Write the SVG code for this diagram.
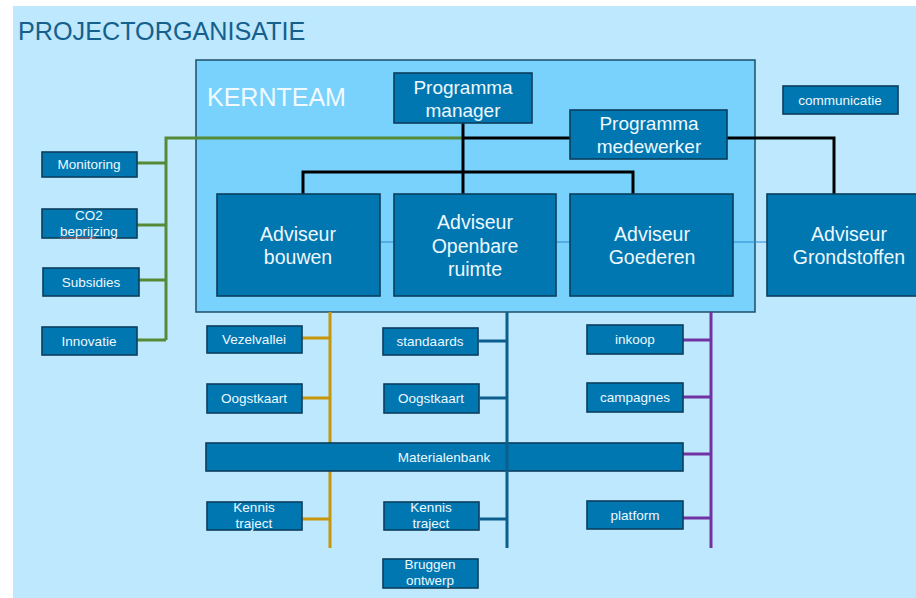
<svg xmlns="http://www.w3.org/2000/svg" width="916" height="598" viewBox="0 0 916 598">
<style>
.n{fill:#0077B1;stroke:#0B3E5E;stroke-width:1.6}
.t{font-family:"Liberation Sans",Arial,sans-serif;fill:#EEF8FF;text-anchor:middle}
.s{font-size:13.5px}
.m{font-size:19px}
.b{font-size:19.5px}
.ln{fill:none;stroke-width:3}
</style>
<rect x="0" y="0" width="916" height="598" fill="#FFFFFF"/>
<rect x="13" y="6" width="903" height="592" fill="#BDE8FE"/>
<text x="18" y="40" font-family="Liberation Sans,Arial,sans-serif" font-size="25.2" fill="#15608C">PROJECTORGANISATIE</text>

<g id="kernteam">
<rect x="196" y="60" width="559" height="252" fill="#78D2FC" stroke="#1D4E6A" stroke-width="1.5"/>
<text x="207" y="106" font-family="Liberation Sans,Arial,sans-serif" font-size="25" fill="#F2FAFF">KERNTEAM</text>
</g>

<g id="connectors">
<path d="M380 242H394M556 242H570M733 242H767" stroke="#2A8ACB" stroke-width="1.2" fill="none"/>
<path class="ln" stroke="#578A36" d="M463 138H166V340M137 163H166M137 225H166M139 280H166M137 340H166"/>
<path class="ln" stroke="#000000" d="M463 138H570M727 138H834V194M463 123V194M303 194V172H633V194" stroke-width="2.5"/>
<path class="ln" stroke="#C8960A" d="M330 312V548M302 338H330M302 398H330M302 519H330"/>
<path class="ln" stroke="#7332A2" d="M711 312V548M683 340H711M683 397H711M683 454H711M683 518H711"/>
</g>

<g id="advisors">
<g id="adviseur-bouwen"><rect class="n" x="217" y="194" width="163" height="102"/>
<text class="t b" x="298" y="241">Adviseur</text><text class="t b" x="298" y="264">bouwen</text></g>
<g id="adviseur-openbare-ruimte"><rect class="n" x="394" y="194" width="162" height="102"/>
<text class="t b" x="475" y="229">Adviseur</text><text class="t b" x="475" y="253">Openbare</text><text class="t b" x="475" y="276">ruimte</text></g>
<g id="adviseur-goederen"><rect class="n" x="570" y="194" width="163" height="102"/>
<text class="t b" x="652" y="241">Adviseur</text><text class="t b" x="652" y="264">Goederen</text></g>
<g id="adviseur-grondstoffen"><rect class="n" x="767" y="194" width="166" height="102"/>
<text class="t b" x="849" y="241">Adviseur</text><text class="t b" x="849" y="264">Grondstoffen</text></g>
</g>

<g id="programma-manager"><rect class="n" x="394" y="73" width="138" height="50"/>
<text class="t m" x="463" y="94">Programma</text><text class="t m" x="463" y="117">manager</text></g>
<g id="programma-medewerker"><rect class="n" x="570" y="110" width="157" height="49"/>
<text class="t m" x="649" y="130">Programma</text><text class="t m" x="649" y="153">medewerker</text></g>
<g id="communicatie"><rect class="n" x="783" y="86" width="115" height="28"/>
<text class="t s" x="840" y="105">communicatie</text></g>

<g id="monitoring"><rect class="n" x="42" y="152" width="95" height="25"/><text class="t s" x="89" y="169">Monitoring</text></g>
<g id="co2"><rect class="n" x="42" y="209" width="95" height="29"/><text class="t s" x="89" y="220">CO2</text><text class="t s" x="89" y="236">beprijzing</text>
<path d="M60 238.5l1.5-1.5 1.5 1.5 1.5-1.5 1.5 1.5 1.5-1.5 1.5 1.5 1.5-1.5 1.5 1.5 1.5-1.5 1.5 1.5 1.5-1.5 1.5 1.5 1.5-1.5 1.5 1.5 1.5-1.5 1.5 1.5 1.5-1.5 1.5 1.5 1.5-1.5 1.5 1.5 1.5-1.5 1.5 1.5 1.5-1.5 1.5 1.5" fill="none" stroke="#E0605A" stroke-width="0.8"/></g>
<g id="subsidies"><rect class="n" x="43" y="268" width="96" height="28"/><text class="t s" x="91" y="287">Subsidies</text></g>
<g id="innovatie"><rect class="n" x="42" y="327" width="95" height="28"/><text class="t s" x="89" y="346">Innovatie</text></g>

<g id="vezelvallei"><rect class="n" x="207" y="326" width="95" height="27"/><text class="t s" x="254" y="344">Vezelvallei</text></g>
<g id="oogstkaart-1"><rect class="n" x="207" y="384" width="95" height="29"/><text class="t s" x="254" y="403">Oogstkaart</text></g>
<g id="standaards"><rect class="n" x="383" y="328" width="95" height="27"/><text class="t s" x="430" y="346">standaards</text></g>
<g id="oogstkaart-2"><rect class="n" x="384" y="384" width="95" height="29"/><text class="t s" x="431" y="403">Oogstkaart</text></g>
<g id="inkoop"><rect class="n" x="587" y="325" width="96" height="29"/><text class="t s" x="635" y="344">inkoop</text></g>
<g id="campagnes"><rect class="n" x="587" y="383" width="96" height="29"/><text class="t s" x="635" y="402">campagnes</text></g>

<g id="materialenbank"><rect class="n" x="206" y="443" width="477" height="28"/><text class="t s" x="444" y="462">Materialenbank</text></g>

<g id="kennis-1"><rect class="n" x="207" y="502" width="95" height="28"/><text class="t s" x="254" y="512">Kennis</text><text class="t s" x="254" y="528">traject</text></g>
<g id="kennis-2"><rect class="n" x="384" y="502" width="95" height="28"/><text class="t s" x="431" y="512">Kennis</text><text class="t s" x="431" y="528">traject</text></g>
<g id="platform"><rect class="n" x="587" y="501" width="96" height="28"/><text class="t s" x="635" y="520">platform</text></g>
<g id="bruggen"><rect class="n" x="383" y="559" width="95" height="29"/><text class="t s" x="430" y="569">Bruggen</text><text class="t s" x="430" y="585">ontwerp</text></g>

<g id="connectors-front">
<path class="ln" stroke="#0D5E8C" d="M507 312V548M478 341H507M479 398H507M479 519H507"/>
</g>
</svg>
